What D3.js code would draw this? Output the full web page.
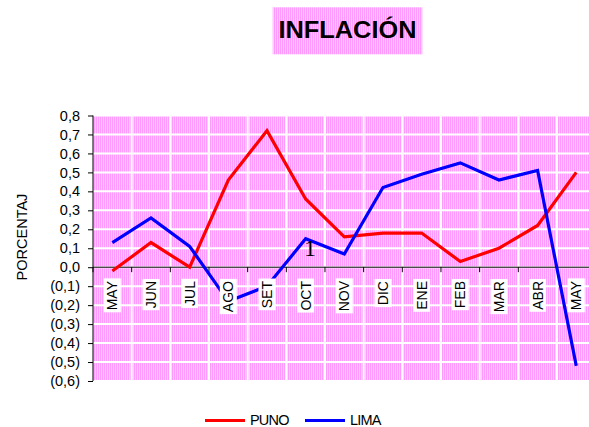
<!DOCTYPE html>
<html><head><meta charset="utf-8">
<script src="https://cdn.jsdelivr.net/npm/d3@7"></script>
<style>
html,body{margin:0;padding:0;background:#fff;}
svg{display:block;font-family:"Liberation Sans",Arial,sans-serif;}
</style></head>
<body>
<svg id="chart" width="589" height="427"></svg>
<script>
const months = ["MAY","JUN","JUL","AGO","SET","OCT","NOV","DIC","ENE","FEB","MAR","ABR","MAY"];
const puno = [-0.02,0.13,0.00,0.46,0.72,0.36,0.16,0.18,0.18,0.03,0.10,0.22,0.50];
const lima = [0.13,0.26,0.11,-0.18,-0.10,0.15,0.07,0.42,0.49,0.55,0.46,0.51,-0.52];
const yTicks = [-0.6,-0.5,-0.4,-0.3,-0.2,-0.1,0,0.1,0.2,0.3,0.4,0.5,0.6,0.7,0.8];
const seriesNames = ["PUNO","LIMA"];
const seriesColors = ["#ff0000","#0000ff"];

const svg = d3.select("#chart");
const L = 93, R = 595.6, T = 115.5, B = 381;

const defs = svg.append("defs");
const pat = defs.append("pattern").attr("id","stripes").attr("patternUnits","userSpaceOnUse")
  .attr("width",2).attr("height",2);
pat.append("rect").attr("width",2).attr("height",2).attr("fill","#ffccff");
pat.append("rect").attr("width",1).attr("height",2).attr("fill","#ff99ff");

const x = d3.scaleBand().domain(d3.range(months.length)).range([L,R]).paddingInner(0).paddingOuter(0);
const y = d3.scaleLinear().domain([-0.6,0.8]).range([B,T]);

// Title
svg.append("rect").attr("x",272.7).attr("y",7.3).attr("width",149.6).attr("height",47).attr("fill","url(#stripes)");
svg.append("text").attr("x",347.5).attr("y",37.7).attr("text-anchor","middle")
  .attr("font-weight","bold").attr("font-size",23).attr("textLength",138).attr("lengthAdjust","spacingAndGlyphs")
  .text("INFLACIÓN");

// plot background
svg.append("rect").attr("x",L).attr("y",T).attr("width",R-L).attr("height",B-T).attr("fill","url(#stripes)");

// grid
svg.append("g").selectAll("line").data(yTicks).join("line")
  .attr("x1",L).attr("x2",R).attr("y1",d=>y(d)).attr("y2",d=>y(d))
  .attr("stroke","#fff").attr("stroke-width",2);
svg.append("g").selectAll("line").data(d3.range(1,months.length)).join("line")
  .attr("x1",d=>x(d)).attr("x2",d=>x(d)).attr("y1",T).attr("y2",B)
  .attr("stroke","#fff").attr("stroke-width",2);

// y axis
const fmt = v => {
  const s = Math.abs(v).toFixed(1).replace(".",",");
  return v < -1e-9 ? "("+s+")" : s;
};
const yAxis = d3.axisLeft(y).tickValues(yTicks).tickFormat(fmt).tickSize(5).tickPadding(8);
const gy = svg.append("g").attr("transform",`translate(${L},0)`).call(yAxis);
gy.select(".domain").attr("stroke","#000").attr("d",`M0,${T}V${B}`);
gy.selectAll(".tick line").attr("stroke","#000");
gy.selectAll(".tick text").attr("font-size",14.5).attr("fill","#000").attr("font-family","Liberation Sans, Arial, sans-serif");

// x axis at zero
const x0 = y(0);
const gx = svg.append("g");
gx.append("line").attr("x1",L).attr("x2",R).attr("y1",x0).attr("y2",x0).attr("stroke","#000").attr("stroke-width",1);
gx.selectAll("line.tk").data(d3.range(0,months.length)).join("line").attr("class","tk")
  .attr("x1",d=>x(d)).attr("x2",d=>x(d)).attr("y1",x0).attr("y2",x0+5).attr("stroke","#000");

// lines
const line = d3.line().x((d,i)=>x(i)+x.bandwidth()/2).y(d=>y(d));
[puno,lima].forEach((s,k)=>{
  svg.append("path").datum(s).attr("d",line).attr("fill","none")
    .attr("stroke",seriesColors[k]).attr("stroke-width",3.2).attr("stroke-linejoin","miter");
});

// category labels with white boxes
const lg = svg.append("g");
months.forEach((m,i)=>{
  const cx = x(i)+x.bandwidth()/2;
  const g = lg.append("g").attr("transform",`translate(${cx},${281}) rotate(-90)`);
  const t = g.append("text").attr("x",0).attr("y",0).attr("text-anchor","end")
    .attr("dy","0.36em").attr("font-size",14).attr("fill","#000").text(m);
  const bb = t.node().getBBox();
  g.insert("rect","text").attr("x",bb.x-2).attr("y",-8.5).attr("width",bb.width+4).attr("height",17).attr("fill","#fff");
});

// stray "1"
svg.append("text").attr("x",310).attr("y",256).attr("text-anchor","middle")
  .attr("font-family","Liberation Serif, Times New Roman, serif").attr("font-size",24).text("1");

// y title
svg.append("text").attr("transform","translate(27,237) rotate(-90)").attr("text-anchor","middle")
  .attr("font-size",14.5).attr("fill","#000").text("PORCENTAJ");

// legend
const legX = [205,305];
seriesNames.forEach((n,k)=>{
  svg.append("line").attr("x1",legX[k]).attr("x2",legX[k]+40).attr("y1",420.5).attr("y2",420.5)
    .attr("stroke",seriesColors[k]).attr("stroke-width",3);
  svg.append("text").attr("x",legX[k]+45).attr("y",425).attr("font-size",14.5)
    .attr("letter-spacing",-0.8).attr("fill","#000").text(n);
});
</script>
</body></html>
